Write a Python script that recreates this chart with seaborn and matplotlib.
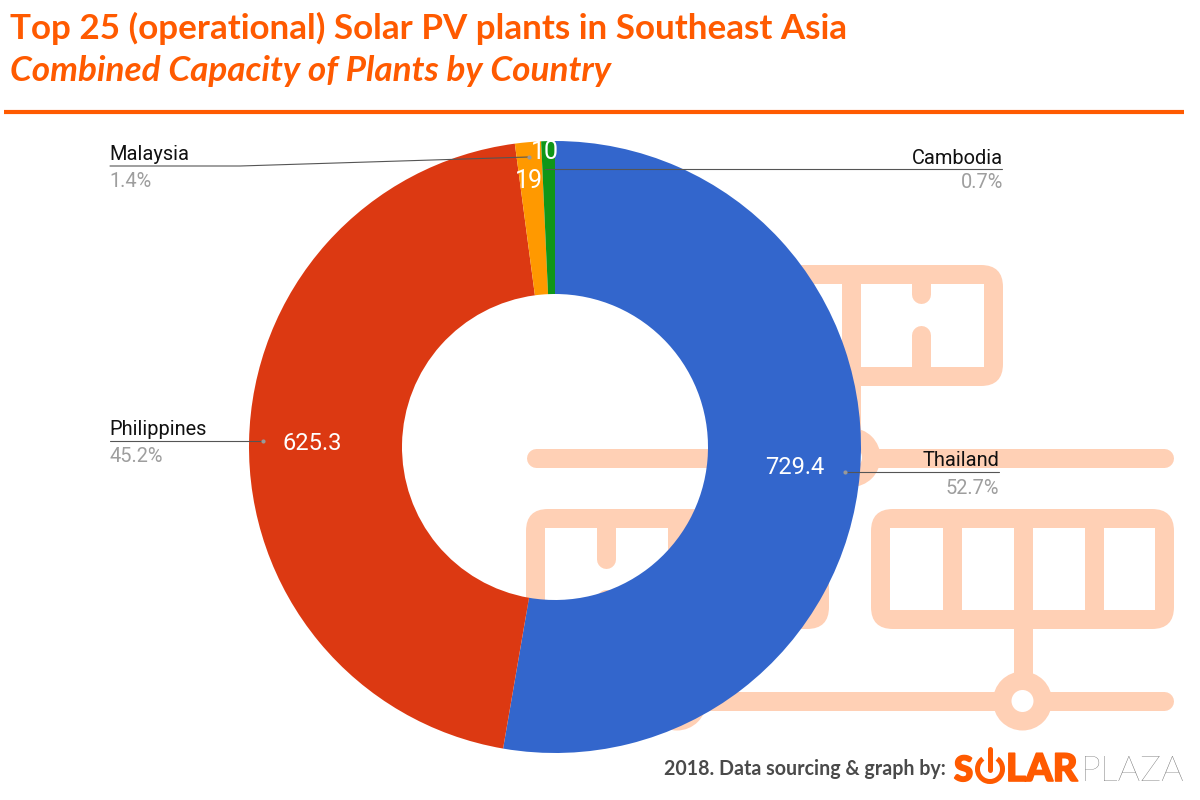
# top 25 solar pv plants in southeast asia, donut by country

import matplotlib
matplotlib.use('Agg')
import matplotlib.pyplot as plt
import matplotlib.patheffects as pe
import seaborn as sns
from matplotlib.patches import Arc, Circle, FancyBboxPatch, Rectangle

countries = ['Thailand', 'Philippines', 'Malaysia', 'Cambodia']
capacity = [729.4, 625.3, 19, 10]
capacity_labels = ['729.4', '625.3', '19', '10']
share_labels = ['52.7%', '45.2%', '1.4%', '0.7%']
slice_colors = ['#3366CC', '#DC3912', '#FF9900', '#109618']

title_line1 = 'Top 25 (operational) Solar PV plants in Southeast Asia'
title_line2 = 'Combined Capacity of Plants by Country'
footer = '2018. Data sourcing & graph by:'

ORANGE = '#FF5A00'
PEACH = '#FFD0B5'

sns.set_theme(style='white')
plt.rcParams['font.family'] = ['Roboto', 'DejaVu Sans']

fig = plt.figure(figsize=(12, 8), dpi=100)
ax = fig.add_axes([0, 0, 1, 1])


# reference was read in pixels from the top
def fy(y):
    return 800 - y


# 19 px stroke for the background icon
STROKE = 19 * 72 / 100


def panel(x0, y0, x1, y1):
    # filled rounded outline with a square white inside
    pad = 22
    ax.add_patch(FancyBboxPatch((x0 + pad, fy(y1) + pad), x1 - x0 - 2 * pad, y1 - y0 - 2 * pad,
                                boxstyle='round,pad=%d,rounding_size=%d' % (pad, pad),
                                fc=PEACH, ec='none', zorder=1))
    ax.add_patch(Rectangle((x0 + 19, fy(y1) + 19), x1 - x0 - 38, y1 - y0 - 38,
                           fc='white', ec='none', zorder=1.1))


def bar(x0, y0, x1, y1, cap='round'):
    ax.plot([x0, x1], [fy(y0), fy(y1)], color=PEACH, lw=STROKE, solid_capstyle=cap, zorder=1.2)


def hub(x, y):
    ax.add_patch(Circle((x, fy(y)), 29.5, fc=PEACH, ec='none', zorder=1.3))
    ax.add_patch(Circle((x, fy(y)), 11, fc='white', ec='none', zorder=1.4))


# background solar panel icon
panel(700, 265, 1003, 386)
bar(851, 270, 851, 380, 'butt')
bar(780, 270, 780, 380, 'butt')
bar(921, 275, 921, 294)
bar(921, 335, 921, 376)
bar(851, 380, 851, 457, 'butt')
bar(536, 457.5, 1164, 457.5)
hub(851, 457.5)

panel(526, 509, 829, 629)
bar(606, 519, 606, 559)
bar(606, 599, 606, 620)
bar(677, 515, 677, 625, 'butt')
bar(748, 515, 748, 625, 'butt')
bar(677, 625, 677, 701, 'butt')

panel(871, 509, 1174, 629)
bar(951.5, 515, 951.5, 625, 'butt')
bar(1022.5, 515, 1022.5, 625, 'butt')
bar(1093.5, 515, 1093.5, 625, 'butt')
bar(1022.5, 625, 1022.5, 701, 'butt')
bar(536, 701, 1164, 701)
hub(677, 701)
hub(1022.5, 701)

# donut, clockwise from the top
wedges, _ = ax.pie(capacity, colors=sns.color_palette(slice_colors), startangle=90, counterclock=False,
                   center=(555, fy(447)), radius=306, frame=True,
                   wedgeprops={'width': 153, 'linewidth': 0})
for w in wedges:
    w.set_zorder(2)

ax.set_xlim(0, 1200)
ax.set_ylim(0, 800)
ax.set_aspect('equal')
ax.axis('off')

# value labels on the slices
value_pos = [(795, 468), (312, 443), (528.5, 181), (545, 152)]
value_size = [17, 17, 18, 18]
for lab, (x, y), size in zip(capacity_labels, value_pos, value_size):
    ax.text(x, fy(y), lab, color='white', fontsize=size, ha='center', va='center', zorder=4)

# leader lines
line_color = '#555555'
ax.plot([999, 845], [fy(472), fy(472)], color=line_color, lw=0.8, zorder=3)
ax.plot([110, 263], [fy(441), fy(441)], color=line_color, lw=0.8, zorder=3)
ax.plot([110, 240, 528.5], [fy(166), fy(166), fy(157)], color=line_color, lw=0.8, zorder=3)
ax.plot([1002, 545], [fy(169), fy(169)], color=line_color, lw=0.8, zorder=3)
ax.scatter([845, 263, 528.5], [fy(472), fy(441), fy(157)], s=9, color='#999999', linewidths=0, zorder=3)

# country names with share below
label_pos = [(999, 'right', 466, 494), (109.5, 'left', 435, 462),
             (109.5, 'left', 160, 187), (1003, 'right', 164, 188)]
for name, share, (x, ha, y1, y2) in zip(countries, share_labels, label_pos):
    ax.text(x, fy(y1), name, color='#111111', fontsize=14.4, ha=ha, va='baseline', zorder=4)
    ax.text(x, fy(y2), share, color='#9E9E9E', fontsize=14.4, ha=ha, va='baseline', zorder=4)

# header
ax.text(10, fy(39), title_line1, family='Lato', weight='bold', fontsize=25.2, color=ORANGE, va='baseline')
ax.text(10, fy(81), title_line2, family='Lato', weight='bold', style='italic', fontsize=25.3,
        color=ORANGE, va='baseline')
ax.plot([4, 1184], [fy(112), fy(112)], color=ORANGE, lw=3, solid_capstyle='butt')

# footer and logo
heavy = [pe.withStroke(linewidth=1.2, foreground=ORANGE)]
ax.text(664, fy(775), footer, family='Lato', weight='bold', fontsize=14.1, color='#4A4A4A', va='baseline', zorder=5)
ax.text(954, fy(781), 'S', family='Lato', weight='black', fontsize=25, color=ORANGE, va='baseline', zorder=5,
        path_effects=heavy)
ax.add_patch(Arc((990, fy(769)), 25, 25, theta1=-235, theta2=55, ec=ORANGE, lw=3.6, zorder=5))
ax.plot([990, 990], [fy(749), fy(770)], color=ORANGE, lw=3.6, zorder=5)
ax.text(1006, fy(781), 'LAR', family='Lato', weight='black', fontsize=27.5, color=ORANGE, va='baseline', zorder=5,
        path_effects=heavy)
ax.text(1081, fy(781), 'PLAZA', family='Lato', weight='light', fontsize=25.5, color='#666666', va='baseline', zorder=5)

fig.savefig('out.png', dpi=100)
